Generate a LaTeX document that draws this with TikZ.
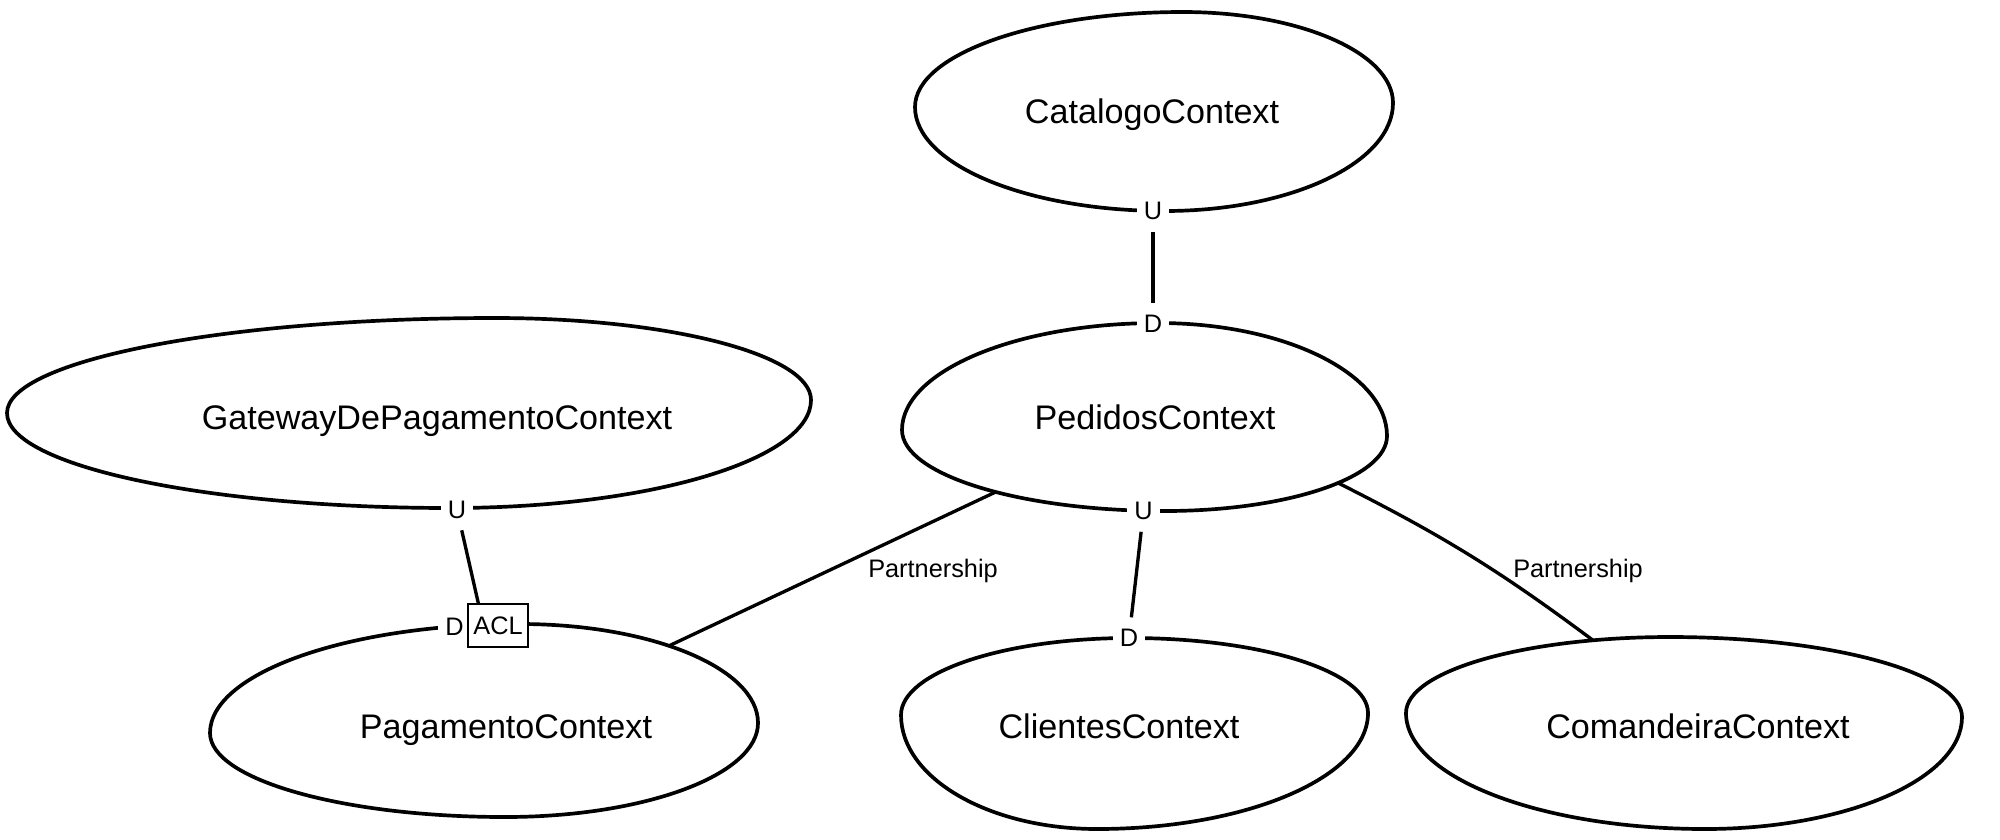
\documentclass[tikz,border=0pt]{standalone}
\usepackage{fontspec}
\setmainfont{Liberation Sans}
\usetikzlibrary{calc,intersections}
\newcommand{\kk}{0.5523}
% egg-like closed outline through left, top, right, bottom extreme points
\newcommand{\eggshape}[5]{%
  \coordinate (#1L) at #2; \coordinate (#1T) at #3;
  \coordinate (#1R) at #4; \coordinate (#1B) at #5;
  \coordinate (#1cLT) at (#1L|-#1T); \coordinate (#1cTR) at (#1R|-#1T);
  \coordinate (#1cRB) at (#1R|-#1B); \coordinate (#1cBL) at (#1L|-#1B);
  \draw[ctxline, name path=#1path] (#1L)
    .. controls ($(#1L)!\kk!(#1cLT)$) and ($(#1T)!\kk!(#1cLT)$) .. (#1T)
    .. controls ($(#1T)!\kk!(#1cTR)$) and ($(#1R)!\kk!(#1cTR)$) .. (#1R)
    .. controls ($(#1R)!\kk!(#1cRB)$) and ($(#1B)!\kk!(#1cRB)$) .. (#1B)
    .. controls ($(#1B)!\kk!(#1cBL)$) and ($(#1L)!\kk!(#1cBL)$) .. cycle;
}
\tikzset{
  ctxline/.style={line width=1.05pt, draw=black},
  ctxtext/.style={font=\fontsize{9.7}{11.5}\selectfont, anchor=base, inner sep=0pt},
  rel/.style={font=\fontsize{7.2}{8.6}\selectfont, fill=white, inner xsep=2pt, inner ysep=3.2pt},
  rellabel/.style={font=\fontsize{7.2}{8.6}\selectfont, anchor=base, inner sep=0pt},
  aclbox/.style={draw, line width=0.4pt, fill=white, minimum width=0.6cm, minimum height=0.43cm, inner sep=0pt, font=\fontsize{7.2}{8.6}\selectfont},
  conn/.style={line width=0.95pt, draw=black}
}
\begin{document}
\begin{tikzpicture}[x=0.01cm,y=-0.01cm]
\fill[white] (0,0) rectangle (2000,839);
\useasboundingbox (0,0) rectangle (2000,839);

% context outlines
\eggshape{cat}{(915,107)}{(1183,12)}{(1393,103)}{(1165,211)}
\eggshape{gw}{(7,413)}{(495,318)}{(811,400)}{(450,508)}
\eggshape{ped}{(902,430)}{(1158,323)}{(1387,436)}{(1165,511)}
\eggshape{pag}{(210,733)}{(520,624)}{(758,723)}{(505,817)}
\eggshape{cli}{(901,715)}{(1130,638)}{(1368,713)}{(1097,829)}
\eggshape{com}{(1406,713)}{(1670,637)}{(1962,717)}{(1705,829)}

% context names
\node[ctxtext] (catalogo) at (1152,123) {CatalogoContext};
\node[ctxtext] (gateway) at (437,429) {GatewayDePagamentoContext};
\node[ctxtext] (pedidos) at (1155,429) {PedidosContext};
\node[ctxtext] (pagamento) at (506,738) {PagamentoContext};
\node[ctxtext] (clientes) at (1119,738) {ClientesContext};
\node[ctxtext] (comandeira) at (1698,738) {ComandeiraContext};

% Catalogo -> Pedidos
\node[rel] (catU) at (1153,211) {U};
\node[rel] (pedD) at (1153,324) {D};
\draw[conn] (catU) -- (pedD);

% Gateway -> Pagamento (ACL)
\node[rel] (gwU) at (457,509.5) {U};
\node[rel] (pagD) at (454.5,627) {D};
\node[aclbox] (acl) at (498,625.5) {ACL};
\coordinate (aclin) at ($(acl.north west)!0.18!(acl.north east)$);
\draw[conn] (gwU) -- (aclin);

% Pedidos -> Clientes
\node[rel] (pedU) at (1143.5,511) {U};
\node[rel] (cliD) at (1129,638) {D};
\draw[conn] (pedU) -- (cliD);

% Pedidos -- Pagamento partnership
\path[name path=pl1] (1038,472) -- (641,659);
\path[name intersections={of=pedpath and pl1, by={p1a}}];
\path[name intersections={of=pagpath and pl1, by={p1b}}];
\draw[conn] (p1a) -- (p1b);
\node[rellabel] (part1) at (933,577) {Partnership};

% Pedidos -- Comandeira partnership
\path[name path=v1] (1338,440) -- (1338,540);
\path[name intersections={of=pedpath and v1, by={p2a}}];
\path[name path=v2] (1593,600) -- (1593,700);
\path[name intersections={of=compath and v2, by={p2b}}];
\draw[conn] (p2a) to[bend left=5] (p2b);
\node[rellabel] (part2) at (1578,577) {Partnership};
\end{tikzpicture}
\end{document}
